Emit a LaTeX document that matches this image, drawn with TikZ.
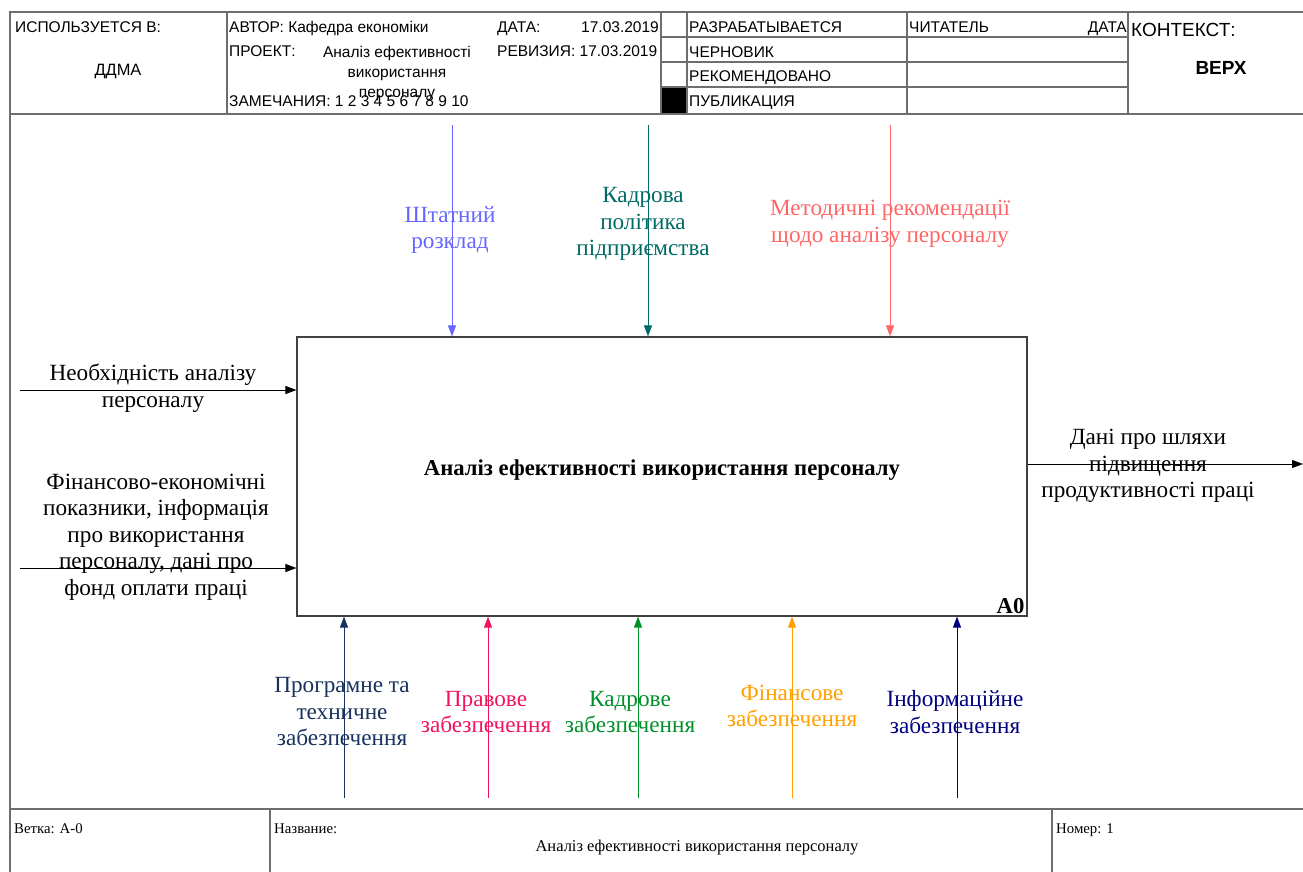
\documentclass[tikz,border=0pt]{standalone}
\usepackage{fontspec}
\setmainfont{Liberation Serif}
\newfontfamily\hdrfont{Liberation Sans}
\usetikzlibrary{arrows.meta}

\definecolor{cshtat}{HTML}{6666FF}
\definecolor{ckadr}{HTML}{006A66}
\definecolor{cmetod}{HTML}{FF6666}
\definecolor{cprog}{HTML}{17325E}
\definecolor{cprav}{HTML}{F0145A}
\definecolor{ckadrz}{HTML}{00902A}
\definecolor{cfin}{HTML}{FFA000}
\definecolor{cinfo}{HTML}{000080}
\definecolor{cframe}{HTML}{6E6E6E}

\tikzset{
  arr/.style={-{Triangle[length=11pt,width=8pt]}, line width=0.9pt},
  lbl/.style={align=center, font=\fontsize{23.2}{26.5}\selectfont, inner sep=0pt},
  hdr/.style={anchor=base west, font=\hdrfont\fontsize{15.5}{17}\selectfont, inner sep=0pt},
  ftr/.style={anchor=base west, font=\fontsize{14.8}{16}\selectfont, inner sep=0pt},
  frame/.style={draw=cframe, line width=1.4pt}
}

\begin{document}
\begin{tikzpicture}[x=1pt, y=-1pt]
  \useasboundingbox (0,0) rectangle (1303,872);

  % frame
  \draw[frame] (10,872) -- (10,12) -- (1303,12);
  \draw[frame] (10,114) -- (1303,114);
  \draw[frame] (10,809) -- (1303,809);
  \draw[frame] (227,12) -- (227,114);
  \draw[frame] (661,12) -- (661,114);
  \draw[frame] (687,12) -- (687,114);
  \draw[frame] (907,12) -- (907,114);
  \draw[frame] (1128,12) -- (1128,114);
  \draw[frame] (661,37) -- (1128,37);
  \draw[frame] (661,62) -- (1128,62);
  \draw[frame] (661,87) -- (1128,87);
  \fill[black] (662,88) rectangle (686,113);
  \draw[frame] (270,809) -- (270,872);
  \draw[frame] (1052,809) -- (1052,872);

  % header
  \node[hdr] (used) at (15,33) {ИСПОЛЬЗУЕТСЯ В:};
  \node[hdr, anchor=base, font=\hdrfont\fontsize{16.4}{18}\selectfont] (ddma) at (118,76) {ДДМА};
  \node[hdr] (author) at (229,33) {АВТОР: Кафедра економіки};
  \node[hdr] (proj) at (229,57) {ПРОЕКТ:};
  \node[hdr, anchor=base] (projname) at (397,58) {Аналіз ефективності};
  \node[hdr, anchor=base] (projname2) at (397,78) {використання};
  \node[hdr, anchor=base] (projname3) at (397,98) {персоналу};
  \node[hdr] (notes) at (229,107) {ЗАМЕЧАНИЯ: 1 2 3 4 5 6 7 8 9 10};
  \node[hdr] (date) at (497,33) {ДАТА:};
  \node[hdr, anchor=base east] (dateval) at (659,33) {17.03.2019};
  \node[hdr] (rev) at (497,57) {РЕВИЗИЯ: 17.03.2019};
  \node[hdr] (st1) at (689,33) {РАЗРАБАТЫВАЕТСЯ};
  \node[hdr] (st2) at (689,58) {ЧЕРНОВИК};
  \node[hdr] (st3) at (689,82) {РЕКОМЕНДОВАНО};
  \node[hdr] (st4) at (689,107) {ПУБЛИКАЦИЯ};
  \node[hdr] (reader) at (909,33) {ЧИТАТЕЛЬ};
  \node[hdr, anchor=base east] (readdate) at (1127,33) {ДАТА};
  \node[hdr, font=\hdrfont\fontsize{19}{21}\selectfont] (ctx) at (1131,37) {КОНТЕКСТ:};
  \node[hdr, anchor=base, font=\hdrfont\bfseries\fontsize{19}{21}\selectfont] (top) at (1221,75) {ВЕРХ};

  % main function block
  \node[draw=black!75, line width=1.1pt, minimum width=730pt, minimum height=279pt, inner sep=0pt] (a0) at (662,476.5) {};
  \node[font=\bfseries\fontsize{22.7}{26}\selectfont] (a0title) at (662,470) {Аналіз ефективності використання персоналу};
  \node[font=\bfseries\fontsize{22.7}{26}\selectfont, anchor=south east, inner sep=3pt] (a0num) at (a0.south east) {A0};

  % controls
  \coordinate (shtat) at (452,125);
  \coordinate (kadr) at (648,125);
  \coordinate (metod) at (890,125);
  \draw[arr, cshtat] (shtat) -- (shtat |- a0.north);
  \draw[arr, ckadr] (kadr) -- (kadr |- a0.north);
  \draw[arr, cmetod] (metod) -- (metod |- a0.north);
  \node[lbl, text=cshtat] (shtatl) at (450,230) {Штатний\\розклад};
  \node[lbl, text=ckadr] (kadrl) at (643,224) {Кадрова\\політика\\підприємства};
  \node[lbl, text=cmetod] (metodl) at (890,224) {Методичні рекомендації\\щодо аналізу персоналу};

  % inputs
  \coordinate (need) at (20,390);
  \coordinate (fin) at (20,568);
  \draw[arr] (need) -- (need -| a0.west);
  \draw[arr] (fin) -- (fin -| a0.west);
  \node[lbl] (needl) at (153,388) {Необхідність аналізу\\персоналу};
  \node[lbl] (finl) at (156,537) {Фінансово-економічні\\показники, інформація\\про використання\\персоналу, дані про\\фонд оплати праці};

  % output
  \coordinate (out) at (1303,464);
  \draw[arr] (out -| a0.east) -- (out);
  \node[lbl] (outl) at (1148,466) {Дані про шляхи\\підвищення\\продуктивності праці};

  % mechanisms
  \coordinate (prog) at (344,798);
  \coordinate (prav) at (488,798);
  \coordinate (kadrz) at (638,798);
  \coordinate (finz) at (792,798);
  \coordinate (info) at (957,798);
  \draw[arr, cprog] (prog) -- (prog |- a0.south);
  \draw[arr, cprav] (prav) -- (prav |- a0.south);
  \draw[arr, ckadrz] (kadrz) -- (kadrz |- a0.south);
  \draw[arr, cfin] (finz) -- (finz |- a0.south);
  \draw[arr, cinfo] (info) -- (info |- a0.south);
  \node[lbl, text=cprog] (progl) at (342,712) {Програмне та\\техничне\\забезпечення};
  \node[lbl, text=cprav] (pravl) at (486,712) {Правове\\забезпечення};
  \node[lbl, text=ckadrz] (kadrzl) at (630,712) {Кадрове\\забезпечення};
  \node[lbl, text=cfin] (finzl) at (792,706) {Фінансове\\забезпечення};
  \node[lbl, text=cinfo] (infol) at (955,712) {Інформаційне\\забезпечення};

  % footer
  \node[ftr] (branch) at (14,833) {Ветка: А-0};
  \node[ftr] (title) at (274,833) {Название:};
  \node[ftr, anchor=base, font=\fontsize{16.5}{18}\selectfont] (titlev) at (697,851) {Аналіз ефективності використання персоналу};
  \node[ftr] (num) at (1056,833) {Номер: 1};
\end{tikzpicture}
\end{document}
